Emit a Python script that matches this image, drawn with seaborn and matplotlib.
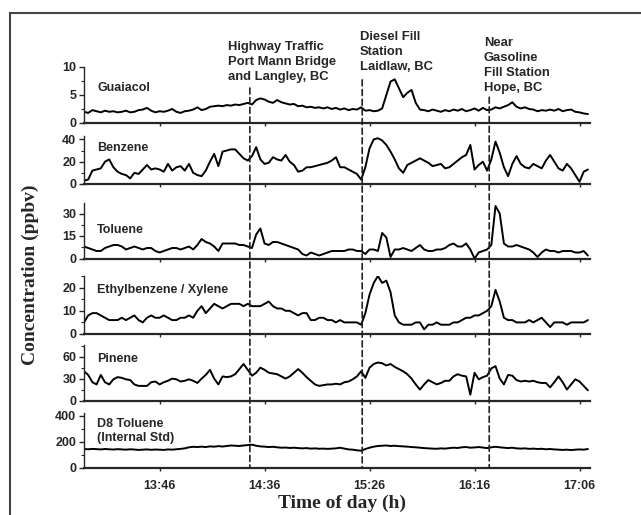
import pandas as pd
import matplotlib.pyplot as plt
import seaborn as sns
from matplotlib.patches import Rectangle, ConnectionPatch
from matplotlib.ticker import AutoMinorLocator

# Time grid: minutes after midnight, 13:10 to 17:10 every 2 min
minutes = list(range(790, 1031, 2))

guaiacol = [
    2.0, 1.8, 2.3, 2.1, 1.9, 2.2, 2.0, 2.1, 1.9, 2.0,
    2.2, 1.9, 2.0, 2.3, 2.4, 2.7, 2.2, 1.9, 2.1, 2.0,
    2.2, 2.5, 2.0, 1.8, 2.1, 2.2, 2.4, 2.8, 2.3, 2.5,
    2.9, 3.0, 3.1, 3.0, 3.2, 3.1, 3.3, 3.2, 3.4, 3.6,
    3.3, 4.1, 4.4, 4.2, 3.8, 3.6, 4.1, 3.7, 3.5, 3.3,
    3.4, 3.0, 3.1, 2.8, 2.9, 2.7, 2.8, 2.6, 2.8, 2.5,
    2.7, 2.4, 2.6, 2.3, 2.5, 2.4, 2.8, 2.2, 2.3, 2.1,
    2.2, 2.6, 5.0, 7.4, 7.8, 6.2, 4.6, 5.4, 5.9, 3.6,
    2.4, 2.3, 2.1, 2.4, 2.2, 2.0, 2.3, 2.1, 2.4, 2.2,
    2.5, 2.1, 2.3, 2.6, 2.2, 2.7, 2.3, 2.4, 2.8, 2.6,
    2.9, 3.2, 3.7, 2.9, 2.6, 2.8, 2.5, 2.4, 2.1, 2.3,
    2.2, 2.4, 2.2, 2.5, 2.1, 2.3, 2.4, 2.0, 1.9, 1.7,
    1.6]

benzene = [
    3, 4, 12, 13, 14, 20, 22, 15, 11, 9,
    8, 5, 10, 9, 13, 17, 13, 14, 13, 11,
    18, 12, 15, 16, 12, 18, 10, 8, 7, 12,
    20, 27, 16, 29, 30, 31, 31, 27, 23, 21,
    25, 33, 22, 18, 19, 24, 22, 21, 26, 20,
    17, 11, 12, 15, 15, 16, 17, 18, 19, 21,
    24, 15, 15, 13, 11, 9, 4, 15, 32, 40,
    41, 39, 35, 29, 22, 14, 10, 17, 19, 21,
    23, 21, 19, 16, 17, 18, 14, 15, 18, 21,
    24, 26, 35, 13, 17, 20, 12, 22, 38, 28,
    15, 7, 18, 25, 18, 15, 14, 18, 16, 14,
    21, 26, 20, 14, 12, 18, 14, 8, 2, 11,
    13]

toluene = [
    8, 7, 6, 5, 5, 7, 8, 9, 9, 8,
    6, 7, 8, 7, 6, 7, 7, 5, 4, 5,
    6, 7, 7, 6, 7, 8, 6, 9, 13, 11,
    10, 8, 5, 10, 10, 10, 10, 9, 9, 8,
    7, 16, 20, 10, 9, 11, 11, 10, 9, 8,
    7, 6, 3, 2, 4, 3, 2, 3, 4, 5,
    5, 5, 5, 6, 6, 5, 5, 3, 6, 6,
    5, 17, 14, 1, 6, 6, 7, 6, 5, 7,
    9, 6, 5, 5, 6, 6, 7, 9, 10, 8,
    8, 10, 6, 0, 4, 5, 6, 9, 35, 30,
    10, 8, 8, 9, 8, 7, 6, 4, 1, 4,
    6, 5, 5, 4, 5, 5, 5, 4, 4, 5,
    2]

ethylbenzene = [
    5, 8, 9, 9, 8, 7, 6, 6, 6, 7,
    6, 7, 8, 6, 5, 7, 8, 7, 7, 8,
    7, 6, 6, 7, 7, 8, 7, 10, 12, 9,
    11, 13, 12, 11, 12, 13, 13, 13, 12, 13,
    12, 12, 12, 13, 14, 12, 11, 11, 10, 10,
    9, 8, 9, 9, 6, 6, 7, 7, 6, 6,
    5, 6, 5, 5, 5, 5, 4, 9, 17, 22,
    25, 22, 23, 18, 8, 5, 4, 4, 4, 5,
    5, 2, 4, 4, 5, 4, 4, 4, 5, 5,
    6, 7, 7, 8, 8, 9, 10, 12, 19, 14,
    7, 6, 6, 5, 5, 5, 6, 5, 6, 7,
    5, 3, 5, 5, 5, 4, 5, 5, 5, 5,
    6]

pinene = [
    40, 35, 25, 22, 35, 25, 22, 29, 32, 31,
    29, 28, 22, 20, 20, 20, 25, 26, 22, 25,
    27, 30, 29, 26, 27, 29, 27, 24, 30, 35,
    42, 30, 22, 33, 32, 33, 36, 43, 50, 42,
    34, 38, 45, 42, 38, 37, 36, 33, 30, 33,
    38, 43, 38, 32, 27, 22, 20, 21, 22, 22,
    23, 22, 25, 26, 29, 33, 40, 31, 45, 50,
    52, 51, 48, 50, 46, 43, 40, 36, 30, 22,
    15, 22, 28, 25, 22, 24, 27, 27, 33, 36,
    34, 33, 8, 38, 29, 32, 34, 44, 47, 30,
    22, 35, 34, 28, 26, 27, 26, 27, 25, 24,
    24, 18, 25, 33, 25, 15, 22, 29, 26, 20,
    14]

d8_toluene = [
    145, 143, 146, 144, 142, 145, 143, 141, 144, 142,
    140, 143, 141, 138, 140, 142, 139, 141, 140, 138,
    142, 140, 143, 146, 150, 158, 162, 160, 163, 160,
    165, 163, 167, 164, 168, 172, 170, 168, 172, 175,
    178, 170, 165, 163, 160, 162, 158, 155, 156, 153,
    155, 152, 150, 152, 148, 150, 147, 148, 146, 148,
    150, 155, 148, 142, 140, 135, 132, 145, 155, 163,
    168, 170, 172, 168, 170, 167, 165, 163, 160, 158,
    155, 152, 150, 148, 147, 150, 148, 152, 155, 153,
    158, 160, 155, 157, 160, 156, 152, 158, 162, 158,
    155, 152, 155, 150, 148, 150, 146, 148, 145, 147,
    143, 145, 142, 140, 138, 140, 137, 140, 142, 140,
    145]

panel_names = ["Guaiacol", "Benzene", "Toluene", "Ethylbenzene / Xylene",
               "Pinene", "D8 Toluene\n(Internal Std)"]
panel_values = [guaiacol, benzene, toluene, ethylbenzene, pinene, d8_toluene]
panel_ymax = [10, 43, 37, 25, 76, 420]
panel_yticks = [[0, 5, 10], [0, 20, 40], [0, 15, 30], [0, 10, 20], [0, 30, 60], [0, 200, 400]]

tick_minutes = [826, 876, 926, 976, 1026]
tick_labels = ["13:46", "14:36", "15:26", "16:16", "17:06"]

event_minutes = [869, 922.5, 983]
event_labels = ["Highway Traffic\nPort Mann Bridge\nand Langley, BC",
                "Diesel Fill\nStation\nLaidlaw, BC",
                "Near\nGasoline\nFill Station\nHope, BC"]
event_text_minutes = [858.5, 921.5, 980.5]

df = pd.DataFrame({"minute": minutes})
for name, vals in zip(panel_names, panel_values):
    df[name] = vals

# Style
sns.set_style("ticks")
plt.rcParams["font.family"] = ["Liberation Sans", "DejaVu Sans"]

W, H = 641, 515
fig = plt.figure(figsize=(W / 100, H / 100), dpi=100)

# pixel boxes (bottom, top) of each panel
px_boxes = [(123, 67), (184, 136), (258.5, 203), (334, 276), (400.5, 345), (468, 413)]
label_y = [0.63, 0.75, 0.51, 0.76, 0.75, 0.67]

axes = []
for i, name in enumerate(panel_names):
    bot, top = px_boxes[i]
    ax = fig.add_axes([84 / W, 1 - bot / H, (590 - 84) / W, (bot - top) / H])
    sns.lineplot(data=df, x="minute", y=name, ax=ax, color="black", lw=1.4)
    ax.set_xlim(790, 1031)
    ax.set_ylim(0, panel_ymax[i])
    ax.set_yticks(panel_yticks[i])
    ax.yaxis.set_minor_locator(AutoMinorLocator(2))
    ax.set_xticks(tick_minutes)
    if i == len(panel_names) - 1:
        ax.set_xticklabels(tick_labels)
    else:
        ax.set_xticklabels([])
    ax.set_xlabel("")
    ax.set_ylabel("")
    for s in ["top", "right"]:
        ax.spines[s].set_visible(False)
    ax.spines["bottom"].set_linewidth(1.6)
    ax.spines["left"].set_linewidth(1.0)
    ax.tick_params(axis="y", which="major", length=3.5, width=1, pad=2, labelsize=9)
    ax.tick_params(axis="y", which="minor", length=2, width=0.8)
    ax.tick_params(axis="x", which="major", length=2.5, width=1, pad=6, labelsize=9)
    for lab in ax.get_yticklabels() + ax.get_xticklabels():
        lab.set_fontweight("bold")
    ax.text(0.026, label_y[i], name, transform=ax.transAxes, ha="left", va="center",
            fontsize=9, fontweight="bold", linespacing=1.3)
    ax.patch.set_alpha(0)
    axes.append(ax)

# Event markers: dashed lines from the top panel through to the bottom axis
event_tops = [6.25, 7.7, 4.6]
text_tops = [1.46, 1.64, 1.53]
for ev, top, lab, tx, ty in zip(event_minutes, event_tops, event_labels,
                                event_text_minutes, text_tops):
    con = ConnectionPatch(xyA=(ev, top), coordsA=axes[0].transData,
                          xyB=(ev, 0), coordsB=axes[-1].transData,
                          color="#222222", lw=1.2, linestyle=(0, (3.6, 2.2)))
    fig.add_artist(con)
    axes[0].text(tx, ty, lab, transform=axes[0].get_xaxis_transform(),
                 ha="left", va="top", fontsize=9.4, fontweight="bold", linespacing=1.33)

fig.text(30 / W, 1 - 275 / H, "Concentration (ppbv)", rotation=90, ha="center", va="center",
         family="Liberation Serif", fontweight="bold", fontsize=14)
fig.text(342 / W, 1 - 503 / H, "Time of day (h)", ha="center", va="center",
         family="Liberation Serif", fontweight="bold", fontsize=14)

# outer frame
fig.add_artist(Rectangle((10 / W, -0.05), 1.0, 1 - 13 / H + 0.05, transform=fig.transFigure,
                         fill=False, edgecolor="#444444", lw=1.5))

fig.savefig("out.png", dpi=100)
